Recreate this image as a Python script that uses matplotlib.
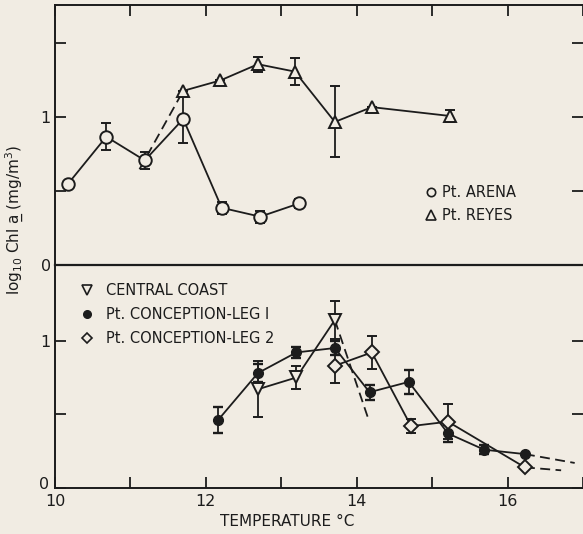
import matplotlib
matplotlib.use("Agg")
import matplotlib.pyplot as plt
from matplotlib.lines import Line2D
from matplotlib.transforms import ScaledTranslation

plt.rcParams['font.family'] = ['DejaVu Sans']

BG = '#f1ece3'
INK = '#1c1c1c'

# ---------------- Upper panel data ----------------
arena_x = [10.17, 10.68, 11.19, 11.70, 12.21, 12.72, 13.24]
arena_y = [0.55, 0.87, 0.71, 0.99, 0.39, 0.33, 0.42]
arena_err = [0.0, 0.09, 0.06, 0.16, 0.04, 0.04, 0.03]

reyes_x = [11.70, 12.19, 12.69, 13.18, 13.71, 14.20, 15.24]
reyes_y = [1.18, 1.25, 1.36, 1.31, 0.97, 1.07, 1.01]
reyes_err = [0.0, 0.0, 0.05, 0.09, 0.24, 0.0, 0.04]
reyes_dash_x = [11.12, 11.70]
reyes_dash_y = [0.65, 1.18]

# ---------------- Lower panel data ----------------
cc_x = [12.69, 13.20, 13.71]
cc_y = [0.67, 0.75, 1.14]
cc_err = [0.19, 0.08, 0.13]
cc_dash_x = [13.71, 14.16]
cc_dash_y = [1.14, 0.46]

leg1_x = [12.16, 12.69, 13.20, 13.71, 14.17, 14.69, 15.21, 15.69, 16.23]
leg1_y = [0.46, 0.78, 0.92, 0.95, 0.65, 0.72, 0.37, 0.26, 0.23]
leg1_err = [0.09, 0.06, 0.04, 0.05, 0.05, 0.08, 0.06, 0.03, 0.0]
leg1_dash_x = [16.23, 16.89]
leg1_dash_y = [0.23, 0.17]

leg2_x = [13.71, 14.20, 14.72, 15.21, 16.23]
leg2_y = [0.83, 0.92, 0.42, 0.45, 0.14]
leg2_err = [0.12, 0.11, 0.05, 0.12, 0.0]
leg2_dash_x = [16.23, 16.71]
leg2_dash_y = [0.14, 0.12]

x_ticks = [10, 11, 12, 13, 14, 15, 16, 17]
x_ticklabels = ['10', '', '12', '', '14', '', '16', '']

fig = plt.figure(figsize=(5.83, 5.34), dpi=100, facecolor=BG)
L, R = 55 / 583, 1.0
ax_top = fig.add_axes([L, 1 - 265.5 / 534, R - L, (265.5 - 5) / 534])
ax_bot = fig.add_axes([L, 1 - 488 / 534, R - L, (488 - 265.5) / 534])

lw = 1.3
eb_kw = dict(ecolor=INK, elinewidth=1.3, capsize=3.5, capthick=1.7, color=INK, lw=lw)
dash = (0, (5.5, 3))

for ax in (ax_top, ax_bot):
    ax.set_facecolor(BG)
    ax.set_xlim(10, 17)
    for s in ax.spines.values():
        s.set_linewidth(1.4)
        s.set_color(INK)
    ax.spines['right'].set_visible(False)
    ax.set_xticks(x_ticks)
    ax.tick_params(direction='in', length=8, width=1.3, color=INK,
                   labelsize=11.5, labelcolor=INK, pad=3)
    ax.tick_params(axis='y', left=True, right=True, labelleft=True, pad=3)

# Upper panel
ax_top.set_ylim(0, 1.76)
ax_top.set_yticks([0, 0.5, 1, 1.5])
ax_top.set_yticklabels(['0', '', '1', ''])
ax_top.tick_params(axis='x', top=True, bottom=False, labelbottom=False)
ax_top.spines['bottom'].set_visible(False)

ax_top.plot(reyes_dash_x, reyes_dash_y, color=INK, lw=lw, linestyle=dash, zorder=2)
ax_top.errorbar(arena_x, arena_y, yerr=arena_err, fmt='-o', ms=9,
                mfc=BG, mec=INK, mew=1.4, zorder=3, **eb_kw)
ax_top.errorbar(reyes_x, reyes_y, yerr=reyes_err, fmt='-^', ms=9,
                mfc=BG, mec=INK, mew=1.4, zorder=4, **eb_kw)

h_top = [Line2D([], [], ls='none', marker='o', ms=6, mfc=BG, mec=INK, mew=1.2),
         Line2D([], [], ls='none', marker='^', ms=6.5, mfc=BG, mec=INK, mew=1.2)]
ax_top.legend(h_top, ['Pt. ARENA', 'Pt. REYES'], loc='upper left',
              bbox_to_anchor=(0.701, 0.31), frameon=False, fontsize=10.5,
              handlelength=0.8, handletextpad=0.35, labelspacing=0.6,
              borderpad=0, borderaxespad=0, labelcolor=INK)

# Lower panel
ax_bot.set_ylim(0, 1.51)
ax_bot.set_yticks([0, 0.5, 1])
ax_bot.set_yticklabels(['0', '', '1'])
ax_bot.set_xticklabels(x_ticklabels)
ax_bot.tick_params(axis='x', top=False, bottom=True, pad=4)
ax_bot.spines['top'].set_linewidth(1.6)
# raise the lower "0" label a little so it clears the "10" below it
zero_lbl = ax_bot.get_yticklabels()[0]
zero_lbl.set_transform(zero_lbl.get_transform() +
                       ScaledTranslation(-2 / 100, 5 / 100, fig.dpi_scale_trans))

ax_bot.plot(cc_dash_x, cc_dash_y, color=INK, lw=lw, linestyle=dash, zorder=2)
ax_bot.plot(leg1_dash_x, leg1_dash_y, color=INK, lw=lw, linestyle=dash, zorder=2)
ax_bot.plot(leg2_dash_x, leg2_dash_y, color=INK, lw=lw, linestyle=dash, zorder=2)
ax_bot.errorbar(leg1_x, leg1_y, yerr=leg1_err, fmt='-o', ms=7,
                mfc=INK, mec=INK, zorder=3, **eb_kw)
ax_bot.errorbar(cc_x, cc_y, yerr=cc_err, fmt='-v', ms=9,
                mfc=BG, mec=INK, mew=1.4, zorder=4, **eb_kw)
ax_bot.errorbar(leg2_x, leg2_y, yerr=leg2_err, fmt='-D', ms=7.5,
                mfc=BG, mec=INK, mew=1.4, zorder=5, **eb_kw)

h_bot = [Line2D([], [], ls='none', marker='v', ms=6.5, mfc=BG, mec=INK, mew=1.2),
         Line2D([], [], ls='none', marker='o', ms=5.5, mfc=INK, mec=INK),
         Line2D([], [], ls='none', marker='D', ms=5, mfc=BG, mec=INK, mew=1.2)]
ax_bot.legend(h_bot, ['CENTRAL COAST', 'Pt. CONCEPTION-LEG I', 'Pt. CONCEPTION-LEG 2'],
              loc='upper left', bbox_to_anchor=(0.05, 0.92), frameon=False,
              fontsize=10.5, handlelength=0.8, handletextpad=0.9, labelspacing=0.6,
              borderpad=0, borderaxespad=0, labelcolor=INK)

fig.text(287 / 583, 1 - 522 / 534, 'TEMPERATURE \u00b0C', ha='center', va='center',
         fontsize=11, color=INK)
fig.text(15 / 583, 1 - 220 / 534, 'log$_{10}$ Chl a\u0332 (mg/m$^3$)', rotation=90,
         ha='center', va='center', fontsize=11, color=INK)

fig.savefig('out.png', dpi=100, facecolor=BG)
